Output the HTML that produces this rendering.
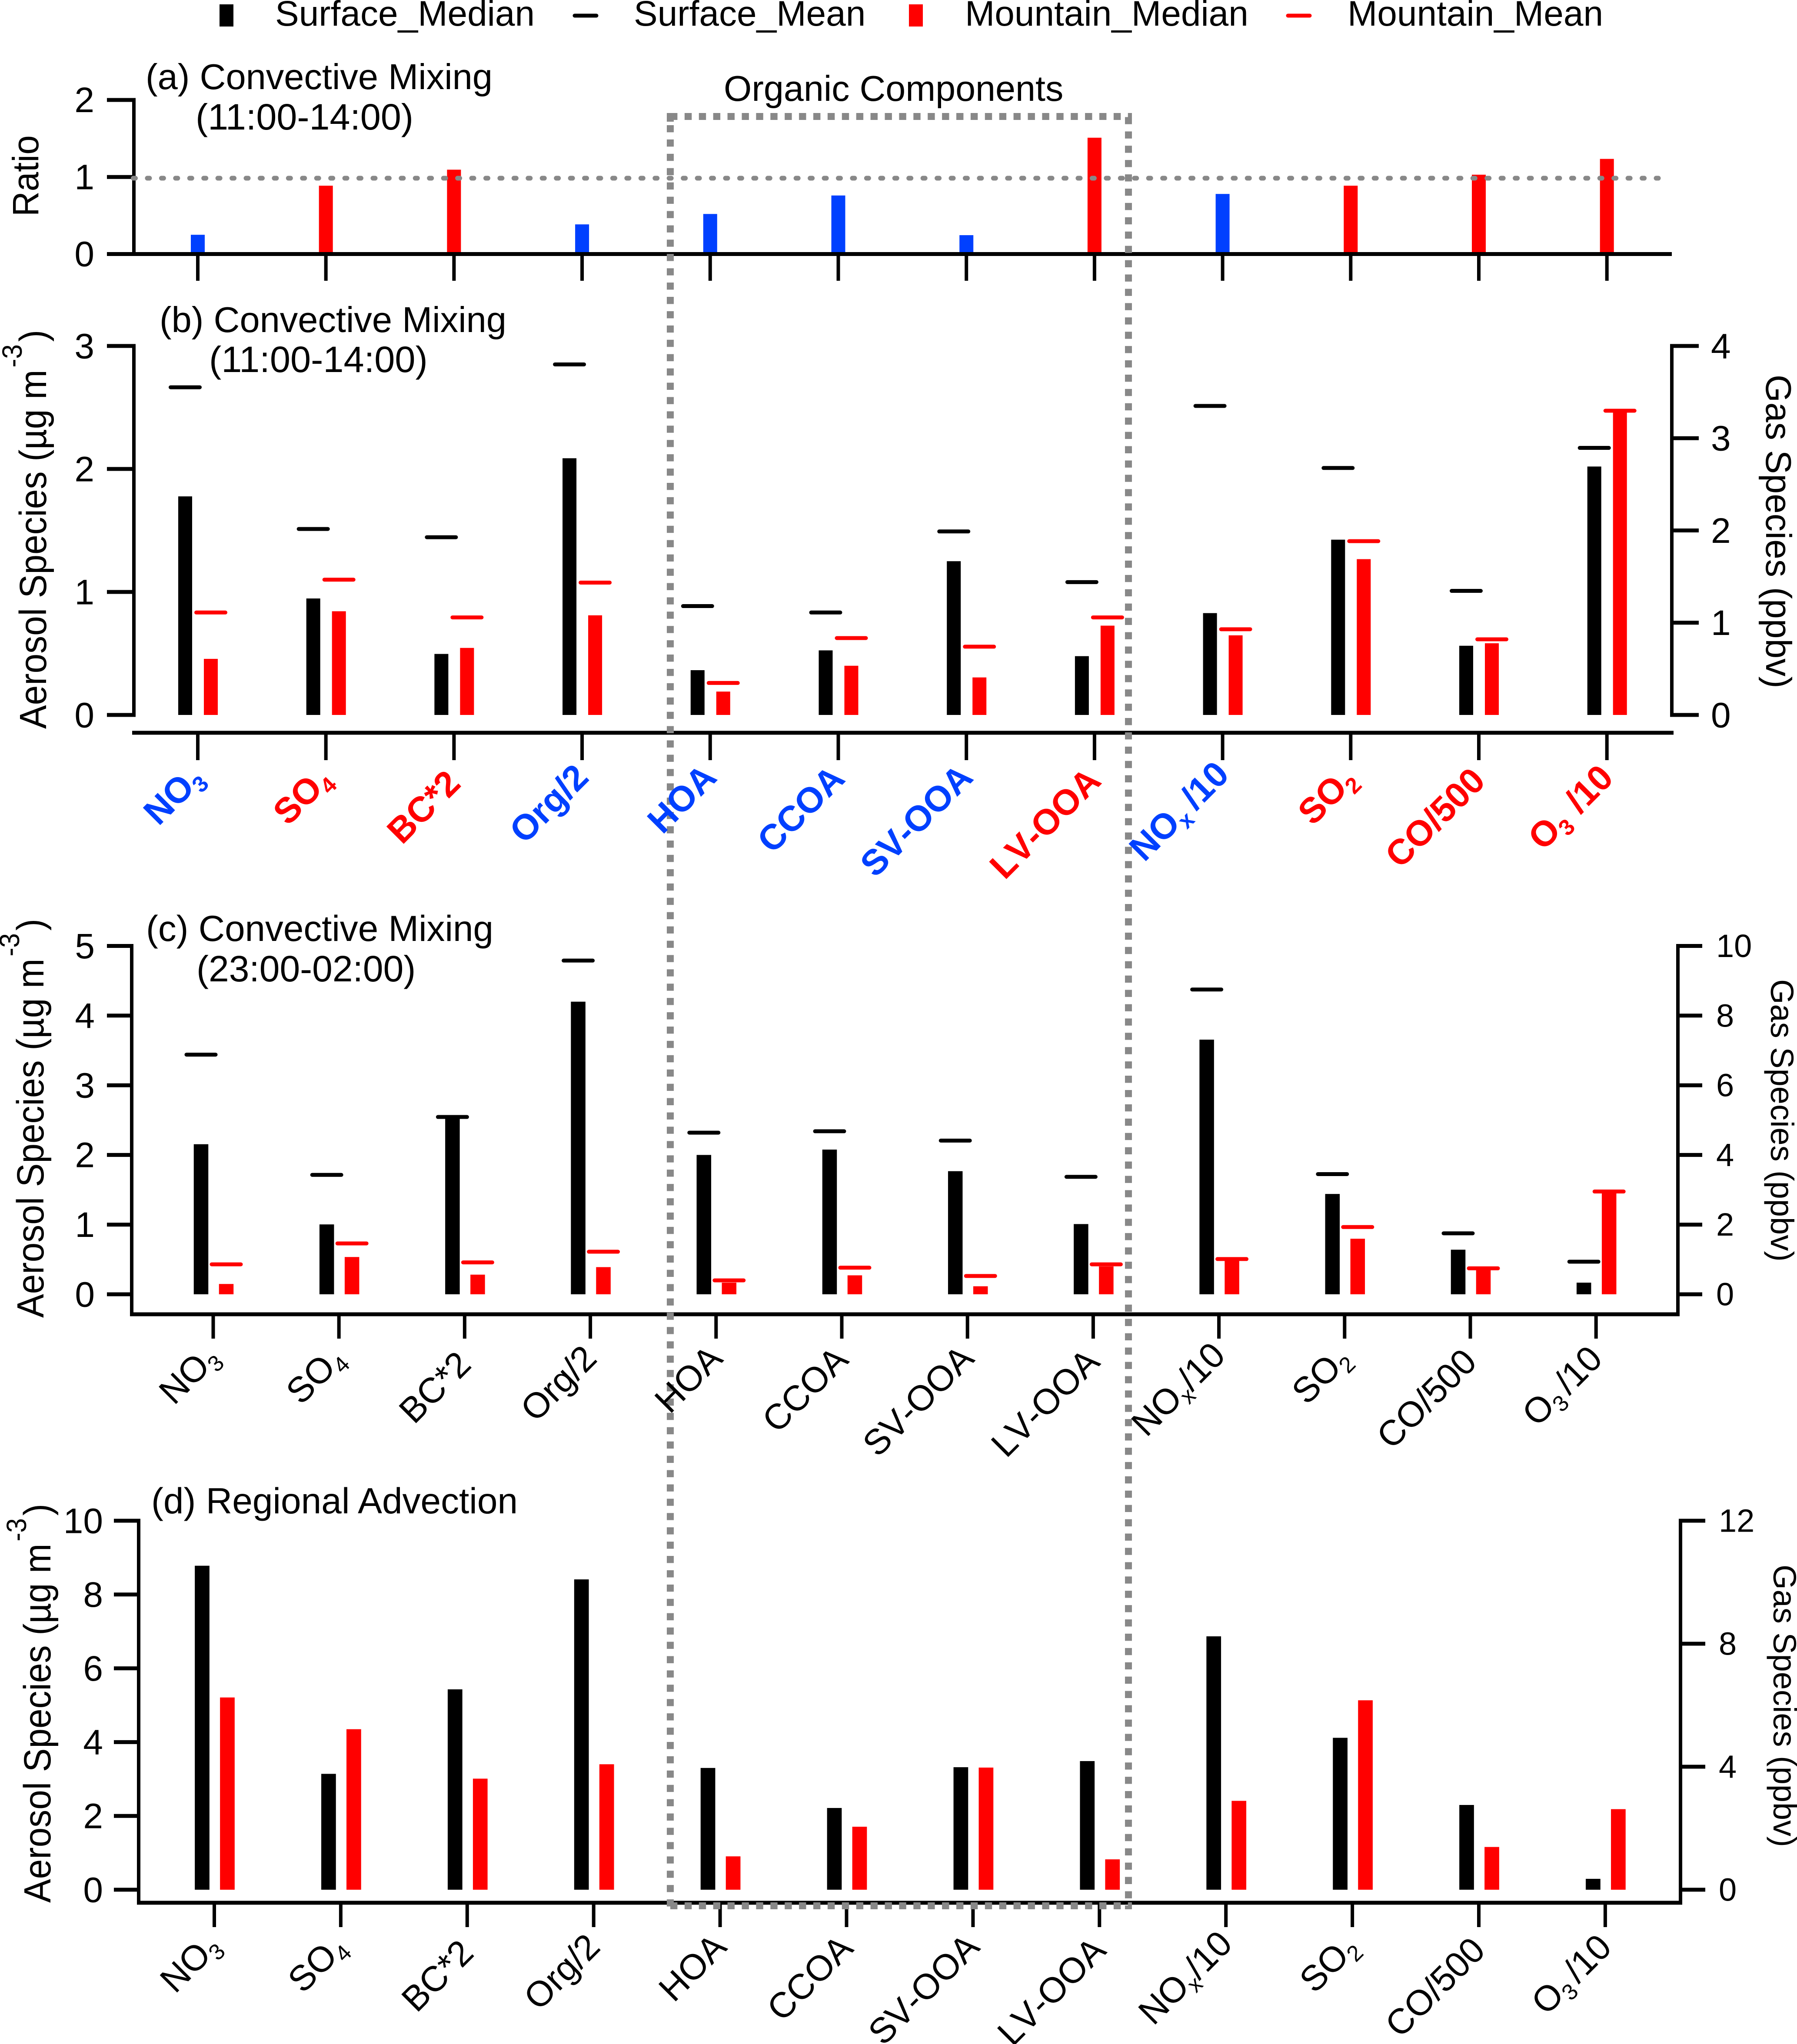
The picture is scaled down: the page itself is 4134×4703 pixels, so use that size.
<!DOCTYPE html>
<html lang="en">
<head>
<meta charset="utf-8">
<title>Surface and mountain aerosol and gas species</title>
<style>
html,body{margin:0;padding:0;background:#fff}
svg{display:block}
text{font-family:"Liberation Sans",Arial,sans-serif;fill:#000}
#labels text{font-kerning:none}
</style>
</head>
<body>
<svg id="chart" xmlns="http://www.w3.org/2000/svg" width="4134" height="4703" viewBox="0 0 4134 4703">
<rect x="0" y="0" width="4134" height="4703" fill="#fff"/>
<g id="panels"></g>
<line x1="306.5" y1="410" x2="3820" y2="410" stroke="#888" stroke-width="11" stroke-linecap="round" stroke-dasharray="5 27.44"/>
<g fill="none" stroke="#888" stroke-width="16">
<line x1="1542" y1="268" x2="2604" y2="268" stroke-dasharray="16.4 16.5"/>
<line x1="1542" y1="260" x2="1542" y2="280" />
<line x1="1542" y1="288" x2="1542" y2="4393" stroke-dasharray="16.4 16.52"/>
<line x1="2596" y1="269.4" x2="2596" y2="4393" stroke-dasharray="16.4 16.52"/>
<line x1="1542" y1="4385" x2="2604" y2="4385" stroke-dasharray="16.4 16.5"/>
</g>
<text x="1665" y="232" font-size="82.7">Organic Components</text>
<g id="labels"></g>
<g>
<rect x="505" y="10" width="32" height="51" fill="#000"/>
<text x="633" y="59" font-size="82">Surface_Median</text>
<line x1="1322" y1="36" x2="1372" y2="36" stroke="#000" stroke-width="9" stroke-linecap="round"/>
<text x="1458" y="59" font-size="82">Surface_Mean</text>
<rect x="2091" y="10" width="32" height="51" fill="#f00"/>
<text x="2220" y="59" font-size="82">Mountain_Median</text>
<line x1="2963" y1="36" x2="3013" y2="36" stroke="#f00" stroke-width="9" stroke-linecap="round"/>
<text x="3100" y="59" font-size="82">Mountain_Mean</text>
</g>
<g>
<text x="335" y="205" font-size="83">(a) Convective Mixing</text>
<text x="450" y="298" font-size="84.5">(11:00-14:00)</text>
<text x="367" y="764" font-size="83">(b) Convective Mixing</text>
<text x="481" y="856" font-size="84.8">(11:00-14:00)</text>
<text x="336" y="2165" font-size="83.6">(c) Convective Mixing</text>
<text x="452" y="2258" font-size="84">(23:00-02:00)</text>
<text x="348" y="3482" font-size="83.8">(d) Regional Advection</text>
</g>
<g>
<text transform="translate(88,498) rotate(-90) scale(1,1.05)" font-size="80">Ratio</text>
<text transform="translate(106,1677) rotate(-90) scale(1,1.06)" font-size="82">Aerosol Species (µg m<tspan dy="-53" dx="5" font-size="60">-3</tspan><tspan dy="53" dx="6" font-size="82">)</tspan></text>
<text transform="translate(4063,862) rotate(90)" font-size="82.2">Gas Species (ppbv)</text>
<text transform="translate(100,3032) rotate(-90) scale(1,1.06)" font-size="82">Aerosol Species (µg m<tspan dy="-53" dx="5" font-size="60">-3</tspan><tspan dy="53" dx="6" font-size="82">)</tspan></text>
<text transform="translate(4074,2253) rotate(90)" font-size="74">Gas Species (ppbv)</text>
<text transform="translate(116,4378) rotate(-90) scale(1,1.06)" font-size="82">Aerosol Species (µg m<tspan dy="-53" dx="5" font-size="60">-3</tspan><tspan dy="53" dx="6" font-size="82">)</tspan></text>
<text transform="translate(4080,3600) rotate(90)" font-size="74">Gas Species (ppbv)</text>
</g>
</svg>
<script>
const categories = ['NO_3','SO_4','BC*2','Org/2','HOA','CCOA','SV-OOA','LV-OOA','NO_x/10','SO_2','CO/500','O_3/10'];
const ratioValues = [0.25,0.887,1.095,0.385,0.52,0.76,0.245,1.51,0.78,0.887,1.03,1.235];

const ticksRatio = [0,1,2];
const ticksBLeft = [0,1,2,3];
const ticksBRight = [0,1,2,3,4];
const ticksCLeft = [0,1,2,3,4,5];
const ticksCRight = [0,2,4,6,8,10];
const ticksDLeft = [0,2,4,6,8,10];
const ticksDRight = [0,4,8,12];

const bSurfaceMedian = [1.777,0.947,0.496,2.087,0.364,0.525,1.25,0.478,1.104,1.90,0.75,2.693];
const bMountainMedian = [0.456,0.843,0.545,0.81,0.19,0.40,0.305,0.726,0.863,1.689,0.777,3.29];
const bSurfaceMean = [2.664,1.512,1.445,2.85,0.885,0.833,1.492,1.08,3.35,2.677,1.345,2.895];
const bMountainMean = [0.833,1.10,0.793,1.076,0.26,0.625,0.555,0.793,0.929,1.884,0.82,3.298];

const cSurfaceMedian = [2.154,1.003,2.54,4.20,2.00,2.077,1.767,1.008,7.31,2.88,1.28,0.334];
const cMountainMedian = [0.148,0.535,0.282,0.39,0.167,0.272,0.115,0.40,1.02,1.595,0.735,2.93];
const cSurfaceMean = [3.44,1.714,2.545,4.79,2.32,2.34,2.206,1.686,8.75,3.45,1.75,0.936];
const cMountainMean = [0.43,0.73,0.458,0.611,0.20,0.382,0.263,0.43,1.012,1.93,0.745,2.95];

const dSurfaceMedian = [8.78,3.14,5.43,8.41,3.30,2.215,3.32,3.486,8.24,4.94,2.756,0.354];
const dMountainMedian = [5.21,4.35,3.01,3.40,0.904,1.707,3.31,0.823,2.89,6.16,1.39,2.62];

const SVGNS = 'http://www.w3.org/2000/svg';
const BLUE = '#0040ff';
const RED = '#ff0000';
const FIRST_GAS_INDEX = 8;
const panelsG = document.getElementById('panels');
const labelsG = document.getElementById('labels');

/* label anchor nudge below the tick end (layout only, not data) */
const labelNudgeY = {'NO_3':56,'SO_4':59,'BC*2':58,'Org/2':44,'HOA':44,'CCOA':47,'SV-OOA':44,'LV-OOA':52,'NO_x/10':37,'SO_2':59,'CO/500':52,'O_3/10':45};

function make(parent, tag, attrs) {
  const el = document.createElementNS(SVGNS, tag);
  for (const k in attrs) el.setAttribute(k, attrs[k]);
  parent.appendChild(el);
  return el;
}
function linear(d0, d1, r0, r1) {
  return function (v) { return r0 + (v - d0) / (d1 - d0) * (r1 - r0); };
}
function hLine(parent, x1, x2, y, w, color) {
  return make(parent, 'line', {x1: x1, x2: x2, y1: y, y2: y, stroke: color || '#000', 'stroke-width': w});
}
function vLine(parent, x, y1, y2, w) {
  return make(parent, 'line', {x1: x, x2: x, y1: y1, y2: y2, stroke: '#000', 'stroke-width': w});
}

function drawYAxis(g, name, ticks, scale, axisX, tickEnd, labelX, anchor, fontSize, yTop, yBottom) {
  const spine = vLine(g, axisX, yTop, yBottom, 8);
  
  
  ticks.forEach(function (t) {
    const tick = hLine(g, tickEnd, axisX + (anchor === 'end' ? 4 : -4), scale(t), 9);
    
    
    const label = make(g, 'text', {x: labelX, y: scale(t) + fontSize * 0.345, 'font-size': fontSize, 'text-anchor': anchor});
    label.textContent = t;
    
    
  });
}

function drawXTicks(g, name, scale, yTop, yBottom) {
  categories.forEach(function (c, i) {
    const tick = vLine(g, scale(i), yTop, yBottom, 8);
    
    
  });
}

function drawCategoryLabels(name, scale, anchorDx, anchorY, bold, fontSize, gasGap, subShift, colorFn) {
  categories.forEach(function (c, i) {
    const parts = c.split('_');
    const endsWithSub = parts.length > 1 && parts[1].length === 1;
    const x = scale(i) + anchorDx + (endsWithSub ? -2 : 0);
    const y = anchorY + labelNudgeY[c] + (endsWithSub ? subShift : 0);
    const t = make(labelsG, 'text', {
      transform: 'translate(' + x + ',' + y + ') rotate(-45)',
      'text-anchor': 'end',
      'font-size': fontSize,
      'font-weight': bold ? 'bold' : 'normal'
    });
    t.style.fill = colorFn(i);
    
    
    if (parts.length === 1) {
      t.textContent = c;
    } else {
      const main = make(t, 'tspan', {});
      main.textContent = parts[0];
      const rest = parts[1];
      const sub = make(t, 'tspan', {dy: 16, 'font-size': fontSize * 0.63});
      sub.textContent = rest.charAt(0);
      if (rest.length > 1) {
        const tail = make(t, 'tspan', {dy: -16, dx: gasGap + (parts[0] === 'O' ? 12 : 0)});
        tail.textContent = rest.slice(1);
      }
    }
  });
}

function drawPanel(p) {
  const g = make(panelsG, 'g', {});
  
  
  const x = linear(0, 1, p.firstX, p.firstX + p.stepX);
  const yL = linear(0, p.leftMax, p.y0, p.yTop);
  const yR = linear(0, p.rightMax, p.y0, p.yTop);
  const yFor = function (i) { return i >= FIRST_GAS_INDEX ? yR : yL; };

  categories.forEach(function (c, i) {
    const cx = p.barCenterX(i);
    const s = yFor(i);
    const b1 = make(g, 'rect', {x: cx - p.barOffset - p.barW / 2, y: s(p.surfaceMedian[i]), width: p.barW, height: p.y0 - s(p.surfaceMedian[i]), fill: '#000'});
    
    
    const b2 = make(g, 'rect', {x: cx + p.barOffset - p.barW / 2, y: s(p.mountainMedian[i]), width: p.barW, height: p.y0 - s(p.mountainMedian[i]), fill: RED});
    
    
    if (p.surfaceMean) {
      const m1 = make(g, 'line', {x1: cx - p.barOffset - 33.5, x2: cx - p.barOffset + 33.5, y1: s(p.surfaceMean[i]), y2: s(p.surfaceMean[i]), stroke: '#000', 'stroke-width': 9, 'stroke-linecap': 'round'});
      
      
    }
    if (p.mountainMean) {
      const m2 = make(g, 'line', {x1: cx + p.barOffset - 33.5, x2: cx + p.barOffset + 33.5, y1: s(p.mountainMean[i]), y2: s(p.mountainMean[i]), stroke: RED, 'stroke-width': 9, 'stroke-linecap': 'round'});
      
      
    }
  });

  const axisBottom = p.joined ? p.xAxisY : p.y0 + 4;
  drawYAxis(g, p.name + '-left-axis', p.leftTicks, yL, p.leftX, p.leftTickEnd, p.leftLabelX, 'end', p.leftFont, p.yTop - 4, axisBottom);
  drawYAxis(g, p.name + '-right-axis', p.rightTicks, yR, p.rightX, p.rightTickEnd, p.rightLabelX, 'start', p.rightFont, p.yTop - 4, axisBottom);

  const xAxis = hLine(g, p.leftX - 4, p.rightX + 4, p.xAxisY, 9);
  
  
  drawXTicks(g, p.name, x, p.xAxisY, p.xTickEnd);
  drawCategoryLabels(p.name, x, p.labelDx, p.xTickEnd + p.labelDy, p.bold, p.labelFont, p.gasGap, p.subShift, p.colorFn);
}

function ratioColor(i) { return ratioValues[i] < 0.8 ? BLUE : RED; }

/* panel (a): ratio bars */
(function () {
  const g = make(panelsG, 'g', {});
  
  
  const x = linear(0, 1, 455, 749.7);
  const y = linear(0, 2, 584.5, 230);
  categories.forEach(function (c, i) {
    const bar = make(g, 'rect', {x: x(i) - 16, y: y(ratioValues[i]), width: 32, height: y(0) - y(ratioValues[i]), fill: ratioColor(i)});
    
    
  });
  const spine = vLine(g, 308, 226, 584, 8);
  
  
  ticksRatio.forEach(function (t) {
    const tick = hLine(g, 246, 312, y(t), 9);
    
    
    const label = make(g, 'text', {x: 217, y: y(t) + 28, 'font-size': 82, 'text-anchor': 'end'});
    label.textContent = t;
    
    
  });
  const xAxis = hLine(g, 246, 3846, 584.5, 9);
  
  
  drawXTicks(g, 'panel-a', x, 584, 646);
})();

const xPanelB = linear(0, 1, 455.5, 750.2);
const xPanelC = linear(0, 1, 491.5, 780.7);
const xPanelD = linear(0, 1, 494, 784.9);

drawPanel({
  name: 'panel-b', firstX: 455, stepX: 294.7, barCenterX: xPanelB, barW: 32, barOffset: 29.5,
  y0: 1645, yTop: 796, leftMax: 3, rightMax: 4,
  surfaceMedian: bSurfaceMedian, mountainMedian: bMountainMedian, surfaceMean: bSurfaceMean, mountainMean: bMountainMean,
  leftTicks: ticksBLeft, rightTicks: ticksBRight,
  leftX: 308, rightX: 3846, leftTickEnd: 246, rightTickEnd: 3908, leftLabelX: 217, rightLabelX: 3936,
  leftFont: 82, rightFont: 82, xAxisY: 1686, xTickEnd: 1749, joined: false,
  labelDx: 19, labelDy: 0, bold: true, labelFont: 82, gasGap: 16, subShift: -10, colorFn: ratioColor
});
drawPanel({
  name: 'panel-c', firstX: 490.5, stepX: 289.2, barCenterX: xPanelC, barW: 33.5, barOffset: 29,
  y0: 2978, yTop: 2176.5, leftMax: 5, rightMax: 10,
  surfaceMedian: cSurfaceMedian, mountainMedian: cMountainMedian, surfaceMean: cSurfaceMean, mountainMean: cMountainMean,
  leftTicks: ticksCLeft, rightTicks: ticksCRight,
  leftX: 303, rightX: 3860, leftTickEnd: 246, rightTickEnd: 3916, leftLabelX: 218, rightLabelX: 3948,
  leftFont: 82, rightFont: 74, xAxisY: 3024, xTickEnd: 3080, joined: true,
  labelDx: 19, labelDy: 6, bold: false, labelFont: 82, gasGap: 0, subShift: -14, colorFn: function () { return '#000'; }
});
drawPanel({
  name: 'panel-d', firstX: 493, stepX: 290.9, barCenterX: xPanelD, barW: 33.7, barOffset: 29,
  y0: 4348, yTop: 3499, leftMax: 10, rightMax: 12,
  surfaceMedian: dSurfaceMedian, mountainMedian: dMountainMedian, surfaceMean: null, mountainMean: null,
  leftTicks: ticksDLeft, rightTicks: ticksDRight,
  leftX: 319, rightX: 3866, leftTickEnd: 262, rightTickEnd: 3923, leftLabelX: 237, rightLabelX: 3954,
  leftFont: 82, rightFont: 74, xAxisY: 4378, xTickEnd: 4434, joined: true,
  labelDx: 19, labelDy: 6, bold: false, labelFont: 82, gasGap: 0, subShift: -14, colorFn: function () { return '#000'; }
});
</script>
</body>
</html>
